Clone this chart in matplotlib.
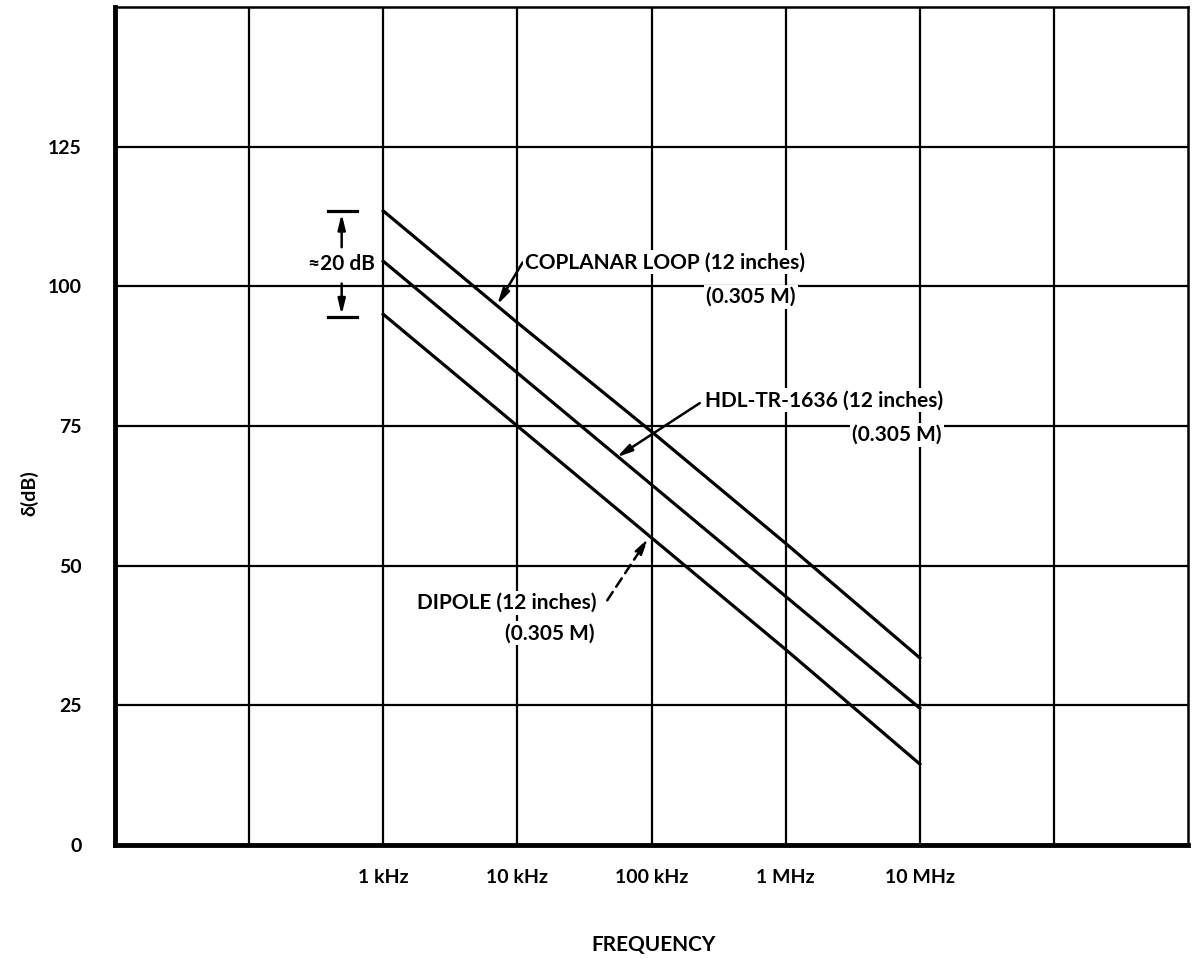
import matplotlib
matplotlib.use("Agg")
import matplotlib.pyplot as plt
import numpy as np

# ---- data ----
freq_hz = [1e3, 1e4, 1e5, 1e6, 1e7]
coplanar_db = [113.5, 93.5, 74.0, 54.0, 33.5]
hdl_db = [104.5, 84.5, 64.5, 44.5, 24.5]
dipole_db = [95.0, 75.0, 55.0, 35.0, 14.5]
xtick_vals = [1e3, 1e4, 1e5, 1e6, 1e7]
xtick_labels = ["1 kHz", "10 kHz", "100 kHz", "1 MHz", "10 MHz"]
ytick_vals = [0, 25, 50, 75, 100, 125]
ytick_labels = ["0", "25", "50", "75", "100", "125"]

plt.rcParams['font.family'] = ['Lato', 'DejaVu Sans']
FW = 'bold'
FT = 14     # tick labels
FA = 15     # annotations

fig = plt.figure(figsize=(11.92, 9.61), dpi=100)
ax = fig.add_axes([115/1192, 1-845/961, (1188-115)/1192, (845-7)/961])
ax.set_xscale('log')
ax.set_xlim(1e1, 1e9)
ax.set_ylim(0, 150)

# grid
for d in range(2, 9):
    ax.axvline(10**d, color='black', lw=1.6, zorder=1)
for v in [25, 50, 75, 100, 125]:
    ax.axhline(v, color='black', lw=1.6, zorder=1)

for s in ax.spines.values():
    s.set_linewidth(1.8)
ax.spines['left'].set_linewidth(3.5)
ax.spines['bottom'].set_linewidth(3.5)

ax.plot(freq_hz, coplanar_db, color='black', lw=2.3, zorder=3)
ax.plot(freq_hz, hdl_db, color='black', lw=2.3, zorder=3)
ax.plot(freq_hz, dipole_db, color='black', lw=2.3, zorder=3)

ax.set_xticks(xtick_vals)
ax.set_xticklabels(xtick_labels, fontsize=FT, fontweight=FW)
ax.xaxis.set_minor_locator(matplotlib.ticker.NullLocator())
ax.set_yticks(ytick_vals)
ax.set_yticklabels(ytick_labels, fontsize=FT, fontweight=FW)
ax.tick_params(length=0)
ax.tick_params(axis='x', pad=17)
ax.tick_params(axis='y', pad=24)

fig.text(654/1192, 1-945/961, "FREQUENCY", ha='center', va='center', fontsize=FA, fontweight=FW)
fig.text(29/1192, 1-493/961, "δ(dB)", ha='center', va='center', rotation=90, fontsize=14, fontweight=FW)

def dx(dec):
    return 10**dec

wb = dict(facecolor='white', edgecolor='none', pad=1.5)
ap = dict(arrowstyle='-|>,head_length=0.9,head_width=0.22', color='black', lw=1.8, shrinkA=0, shrinkB=0)

# ~20 dB marker
bar_l, bar_r, bar_c = dx(2.588), dx(2.805), dx(2.69)
ax.plot([bar_l, bar_r], [113.4, 113.4], color='black', lw=2.3, zorder=3)
ax.plot([bar_l, bar_r], [94.5, 94.5], color='black', lw=2.3, zorder=3)
ax.annotate("", xy=(bar_c, 113.0), xytext=(bar_c, 107.0), arrowprops=ap, zorder=4)
ax.annotate("", xy=(bar_c, 94.9), xytext=(bar_c, 100.5), arrowprops=ap, zorder=4)
ax.text(dx(2.69), 104.0, "≈20 dB", ha='center', va='center', fontsize=FA, fontweight=FW,
        bbox=wb, zorder=5)

# coplanar
ax.annotate("", xy=(dx(3.85), 96.7), xytext=(dx(4.04), 104.3), arrowprops=ap, zorder=4)
ax.text(dx(4.06), 104.3, "COPLANAR LOOP (12 inches)", ha='left', va='center', fontsize=FA,
        fontweight=FW, bbox=wb, zorder=5)
ax.text(dx(5.74), 98.1, "(0.305 M)", ha='center', va='center', fontsize=FA,
        fontweight=FW, bbox=wb, zorder=5)

# HDL
ax.annotate("", xy=(dx(4.74), 69.4), xytext=(dx(5.36), 79.1), arrowprops=ap, zorder=4)
ax.text(dx(5.40), 79.6, "HDL-TR-1636 (12 inches)", ha='left', va='center', fontsize=FA,
        fontweight=FW, bbox=wb, zorder=5)
ax.text(dx(6.83), 73.4, "(0.305 M)", ha='center', va='center', fontsize=FA,
        fontweight=FW, bbox=wb, zorder=5)

# dipole
apd = dict(ap)
apd['linestyle'] = (0, (4, 2.5))
ax.annotate("", xy=(dx(4.975), 54.9), xytext=(dx(4.67), 43.8), arrowprops=apd, zorder=4)
ax.text(dx(3.92), 43.3, "DIPOLE (12 inches)", ha='center', va='center', fontsize=FA,
        fontweight=FW, bbox=wb, zorder=5)
ax.text(dx(4.24), 37.9, "(0.305 M)", ha='center', va='center', fontsize=FA,
        fontweight=FW, bbox=wb, zorder=5)

fig.savefig("out.png", dpi=100, facecolor='white')
